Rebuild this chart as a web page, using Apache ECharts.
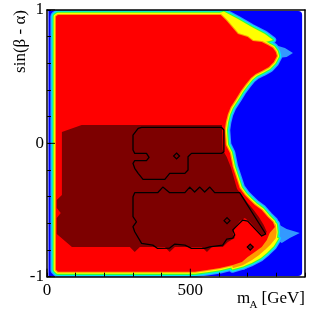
<!DOCTYPE html>
<html><head><meta charset="utf-8">
<script src="https://cdn.jsdelivr.net/npm/echarts@6/dist/echarts.min.js"></script>
<style>html,body{margin:0;padding:0;background:#fff}#c{width:315px;height:316px}</style>
</head><body><div id="c"></div>
<script>
// ---- data (m_A in GeV, sin(beta - alpha)) ----
const xTicks = [0, 500];
const yTicks = [-1, 0, 1];
const xRange = [0, 900];
const yRange = [-1, 1];
const levelColors = ['#0000ff', '#3399ff', '#00e6ff', '#33ff33', '#ffff00', '#ff9900', '#ff0000'];
const darkRed = '#7d0000';

const blueArea = [[5, -0.995], [890, 0.992]];

const redRegion = [[31,0.951],[38,0.962],[606,0.962],[624,0.925],[648,0.865],[666,0.820],[700,0.797],[718,0.767],[749,0.760],[770,0.737],[788,0.715],[798,0.685],[802,0.655],[791,0.610],[774,0.572],[749,0.542],[728,0.520],[711,0.490],[694,0.445],[676,0.392],[659,0.332],[641,0.272],[631,0.220],[624,0.160],[620,0.100],[624,-0.012],[638,-0.073],[648,-0.178],[663,-0.275],[672,-0.335],[690,-0.387],[707,-0.425],[725,-0.462],[749,-0.500],[770,-0.552],[788,-0.590],[795,-0.627],[777,-0.672],[767,-0.725],[749,-0.777],[725,-0.815],[700,-0.852],[680,-0.890],[648,-0.912],[603,-0.935],[558,-0.950],[516,-0.962],[38,-0.962],[31,-0.947]];

const yellowTop = [[603,0.977],[617,0.988],[666,0.932],[714,0.872],[760,0.820],[788,0.775],[749,0.752],[672,0.790],[620,0.887]];
const orangeLow = [[760,-0.592],[798,-0.607],[801,-0.667],[798,-0.712],[781,-0.757],[763,-0.795],[739,-0.840],[714,-0.877],[683,-0.915],[648,-0.937],[638,-0.840],[707,-0.725]];
const yellowLow = [[784,-0.697],[808,-0.712],[791,-0.772],[767,-0.822],[746,-0.860],[714,-0.897],[683,-0.924],[672,-0.840],[742,-0.763]];
const lightBlueTop = [[795,0.737],[830,0.715],[858,0.677],[836,0.647],[805,0.640]];
const lightBlueLow = [[805,-0.605],[836,-0.643],[882,-0.672],[847,-0.710],[819,-0.747],[802,-0.725]];

const darkRegion = [[52,0.085],[121,0.137],[610,0.137],[613,-0.050],[627,-0.102],[641,-0.177],[652,-0.260],[663,-0.342],[680,-0.387],[700,-0.447],[721,-0.500],[739,-0.552],[756,-0.612],[767,-0.665],[753,-0.695],[736,-0.657],[708,-0.590],[690,-0.560],[673,-0.582],[655,-0.635],[648,-0.672],[655,-0.710],[631,-0.740],[613,-0.777],[575,-0.777],[558,-0.815],[540,-0.777],[446,-0.777],[428,-0.815],[411,-0.777],[324,-0.777],[306,-0.815],[289,-0.777],[87,-0.777],[34,-0.680],[34,-0.560],[48,-0.522],[34,-0.485],[34,-0.425],[52,-0.387]];

const contourUpper = [[330,0.120],[609,0.120],[617,0.100],[617,-0.063],[609,-0.075],[504,-0.075],[492,-0.100],[492,-0.200],[481,-0.225],[428,-0.225],[411,-0.270],[335,-0.270],[318,-0.225],[306,-0.187],[300,-0.150],[306,-0.130],[347,-0.130],[356,-0.105],[347,-0.075],[306,-0.075],[300,-0.050],[300,0.062],[318,0.112]];
const contourLower = [[306,-0.370],[386,-0.370],[404,-0.328],[428,-0.370],[481,-0.370],[498,-0.328],[515,-0.365],[533,-0.328],[550,-0.365],[568,-0.328],[585,-0.370],[672,-0.370],[763,-0.680],[749,-0.695],[700,-0.583],[683,-0.575],[665,-0.613],[648,-0.650],[655,-0.687],[648,-0.710],[627,-0.718],[613,-0.763],[568,-0.776],[550,-0.788],[504,-0.788],[481,-0.763],[446,-0.755],[428,-0.785],[386,-0.788],[369,-0.763],[330,-0.750],[306,-0.663],[300,-0.625],[312,-0.588],[300,-0.550],[300,-0.400]];
const diamonds = [[452,-0.095],[628,-0.580],[709,-0.778]];

// ---- drawing ----
const BW = 1.1;
const shapes = [
  {pts: redRegion, level: 6},
  {pts: yellowTop, level: 4},
  {pts: orangeLow, level: 5},
  {pts: yellowLow, level: 4},
  {pts: lightBlueTop, level: 1},
  {pts: lightBlueLow, level: 1}
];
const serif = 'Liberation Serif';

function renderMap(params, api) {
  const toPx = pts => pts.map(p => api.coord(p));
  const children = [];
  const a = api.coord([blueArea[0][0], blueArea[1][1]]);
  const b = api.coord([blueArea[1][0], blueArea[0][1]]);
  children.push({type:'rect', shape:{x:a[0], y:a[1], width:b[0]-a[0], height:b[1]-a[1], r:[0,4,4,0]}, style:{fill: levelColors[0]}});
  for (let k = 1; k < levelColors.length; k++) {
    shapes.forEach(s => {
      if (s.level < k) return;
      const d = (s.level - k) * BW;
      children.push({type:'polygon', shape:{points: toPx(s.pts)},
        style:{fill: levelColors[k], stroke: d > 0 ? levelColors[k] : null, lineWidth: 2*d, lineJoin:'round'}});
    });
  }
  children.push({type:'polygon', shape:{points: toPx(darkRegion)}, style:{fill: darkRed}});
  [contourUpper, contourLower].forEach(c => children.push({type:'polygon', shape:{points: toPx(c)},
    style:{fill:'none', stroke:'#000', lineWidth:1.3, lineJoin:'round'}}));
  diamonds.forEach(p => {
    const c = api.coord(p);
    children.push({type:'polygon', shape:{points:[[c[0],c[1]-3],[c[0]+3,c[1]],[c[0],c[1]+3],[c[0]-3,c[1]]]},
      style:{fill: darkRed, stroke:'#000', lineWidth:1.2}});
  });
  return {type:'group', children};
}

function renderTicks(params, api) {
  const children = [];
  xTicks.forEach(t => { const p = api.coord([t, yRange[0]]);
    children.push({type:'line', shape:{x1:p[0], y1:p[1], x2:p[0], y2:p[1]-8}, style:{stroke:'#000', lineWidth:1}}); });
  yTicks.forEach(t => { const p = api.coord([xRange[0], t]);
    children.push({type:'line', shape:{x1:p[0], y1:p[1], x2:p[0]+8, y2:p[1]}, style:{stroke:'#000', lineWidth:1}}); });
  return {type:'group', children};
}

const chart = echarts.init(document.getElementById('c'));
const axisLineStyle = {show:true, onZero:false, lineStyle:{color:'#000', width:1.5}};
chart.setOption({
  animation: false,
  backgroundColor: '#fff',
  grid: {left: 47, right: 10, top: 10, bottom: 39.3, containLabel: false},
  xAxis: [
    {type:'value', min:xRange[0], max:xRange[1], interval:100, position:'bottom', z:10,
     axisLine: axisLineStyle, splitLine:{show:false},
     axisTick:{inside:true, length:4, lineStyle:{color:'#000', width:1}},
     axisLabel:{formatter: v => xTicks.indexOf(v) >= 0 ? String(v) : '', fontFamily: serif, fontSize:17, color:'#000', margin:5}},
    {type:'value', min:xRange[0], max:xRange[1], position:'top', z:10,
     axisLine: axisLineStyle, splitLine:{show:false}, axisTick:{show:false}, axisLabel:{show:false}}
  ],
  yAxis: [
    {type:'value', min:yRange[0], max:yRange[1], interval:0.2, position:'left', z:10,
     axisLine: axisLineStyle, splitLine:{show:false},
     axisTick:{inside:true, length:4, lineStyle:{color:'#000', width:1}},
     axisLabel:{formatter: v => { const t = yTicks.find(t => Math.abs(t - v) < 1e-6); return t === undefined ? '' : String(t); },
       fontFamily: serif, fontSize:17, color:'#000', margin:3, padding:[5,0,0,0]}},
    {type:'value', min:yRange[0], max:yRange[1], position:'right', z:10,
     axisLine: axisLineStyle, splitLine:{show:false}, axisTick:{show:false}, axisLabel:{show:false}}
  ],
  graphic: [
    {type:'text', x:21, y:10, rotation: Math.PI/2, z:20,
     style:{text:'sin(β - α)', font:'17px "Liberation Serif"', fill:'#000', align:'right', verticalAlign:'middle'}},
    {type:'text', x:237, y:298.5, z:20, style:{text:'m', font:'17px "Liberation Serif"', fill:'#000', align:'left', verticalAlign:'middle'}},
    {type:'text', x:249.5, y:305.5, z:20, style:{text:'A', font:'11px "Liberation Serif"', fill:'#000', align:'left', verticalAlign:'middle'}},
    {type:'text', x:305, y:298.5, z:20, style:{text:'[GeV]', font:'17px "Liberation Serif"', fill:'#000', align:'right', verticalAlign:'middle'}}
  ],
  series: [
    {type:'custom', coordinateSystem:'cartesian2d', xAxisIndex:0, yAxisIndex:0, clip:true, z:2,
     renderItem: renderMap, data:[[0,0]], silent:true},
    {type:'custom', coordinateSystem:'cartesian2d', xAxisIndex:0, yAxisIndex:0, clip:false, z:20,
     renderItem: renderTicks, data:[[0,0]], silent:true}
  ]
});
</script>
</body></html>
